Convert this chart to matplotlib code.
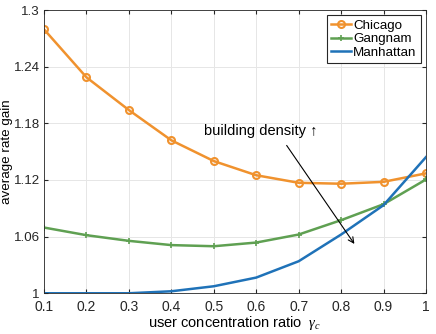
import matplotlib.pyplot as plt

plt.rcParams['font.family'] = ['Liberation Sans', 'DejaVu Sans']
plt.rcParams['mathtext.fontset'] = 'custom'
plt.rcParams['mathtext.it'] = 'Liberation Serif:italic'

ratio = [0.1, 0.2, 0.3, 0.4, 0.5, 0.6, 0.7, 0.8, 0.9, 1.0]
chicago = [1.2795, 1.2287, 1.194, 1.162, 1.140, 1.125, 1.117, 1.116, 1.118, 1.127]
gangnam = [1.0696, 1.0615, 1.0555, 1.051, 1.0498, 1.0537, 1.0622, 1.0774, 1.0943, 1.1205]
manhattan = [1.0, 1.0, 1.0, 1.0021, 1.0074, 1.0166, 1.0339, 1.0622, 1.0933, 1.1442]

xticks = [0.1, 0.2, 0.3, 0.4, 0.5, 0.6, 0.7, 0.8, 0.9, 1]
xticklabels = ['0.1', '0.2', '0.3', '0.4', '0.5', '0.6', '0.7', '0.8', '0.9', '1']
yticks = [1, 1.06, 1.12, 1.18, 1.24, 1.3]
yticklabels = ['1', '1.06', '1.12', '1.18', '1.24', '1.3']

c_orange = '#F0922E'
c_green = '#5FA052'
c_blue = '#1F72B8'

fig = plt.figure(figsize=(4.36, 3.34), dpi=100)
ax = fig.add_axes([0.101, 0.122, 0.876, 0.848])

ax.plot(ratio, chicago, color=c_orange, lw=1.8, marker='o', ms=5,
        mfc='none', mew=1.5, label='Chicago')
ax.plot(ratio, gangnam, color=c_green, lw=1.8, marker='+', ms=5,
        mew=1.2, label='Gangnam')
ax.plot(ratio, manhattan, color=c_blue, lw=1.8, label='Manhattan')

ax.set_xlim(0.1, 1)
ax.set_ylim(1, 1.3)
ax.set_xticks(xticks)
ax.set_xticklabels(xticklabels)
ax.set_yticks(yticks)
ax.set_yticklabels(yticklabels)
ax.tick_params(labelsize=10, length=3, direction='in', colors='#262626',
               top=True, right=True)
ax.tick_params(axis='x', pad=5)
ax.tick_params(axis='y', pad=3, labelsize=9.6)
ax.grid(True, color='#e6e6e6', lw=0.7)
for s in ax.spines.values():
    s.set_color('#262626')
    s.set_linewidth(0.6)

ax.set_xlabel(r'user concentration ratio  $\gamma_c$', fontsize=10.5, labelpad=0)
ax.set_ylabel('average rate gain', fontsize=9.6)
ax.yaxis.set_label_coords(-0.08, 0.5)

ax.annotate('', xy=(0.835, 1.0498), xytext=(0.668, 1.159),
            arrowprops=dict(arrowstyle='->', color='black', lw=0.8))
ax.text(0.477, 1.172, 'building density \u2191', fontsize=10.5, va='center')

leg = ax.legend(loc='upper right', fontsize=9.6, handlelength=1.5,
                handletextpad=0.2, borderpad=0.3, labelspacing=0.1,
                fancybox=False, framealpha=1, edgecolor='#262626',
                borderaxespad=0.4)
leg.get_frame().set_linewidth(0.8)

fig.savefig('out.png', dpi=100)
